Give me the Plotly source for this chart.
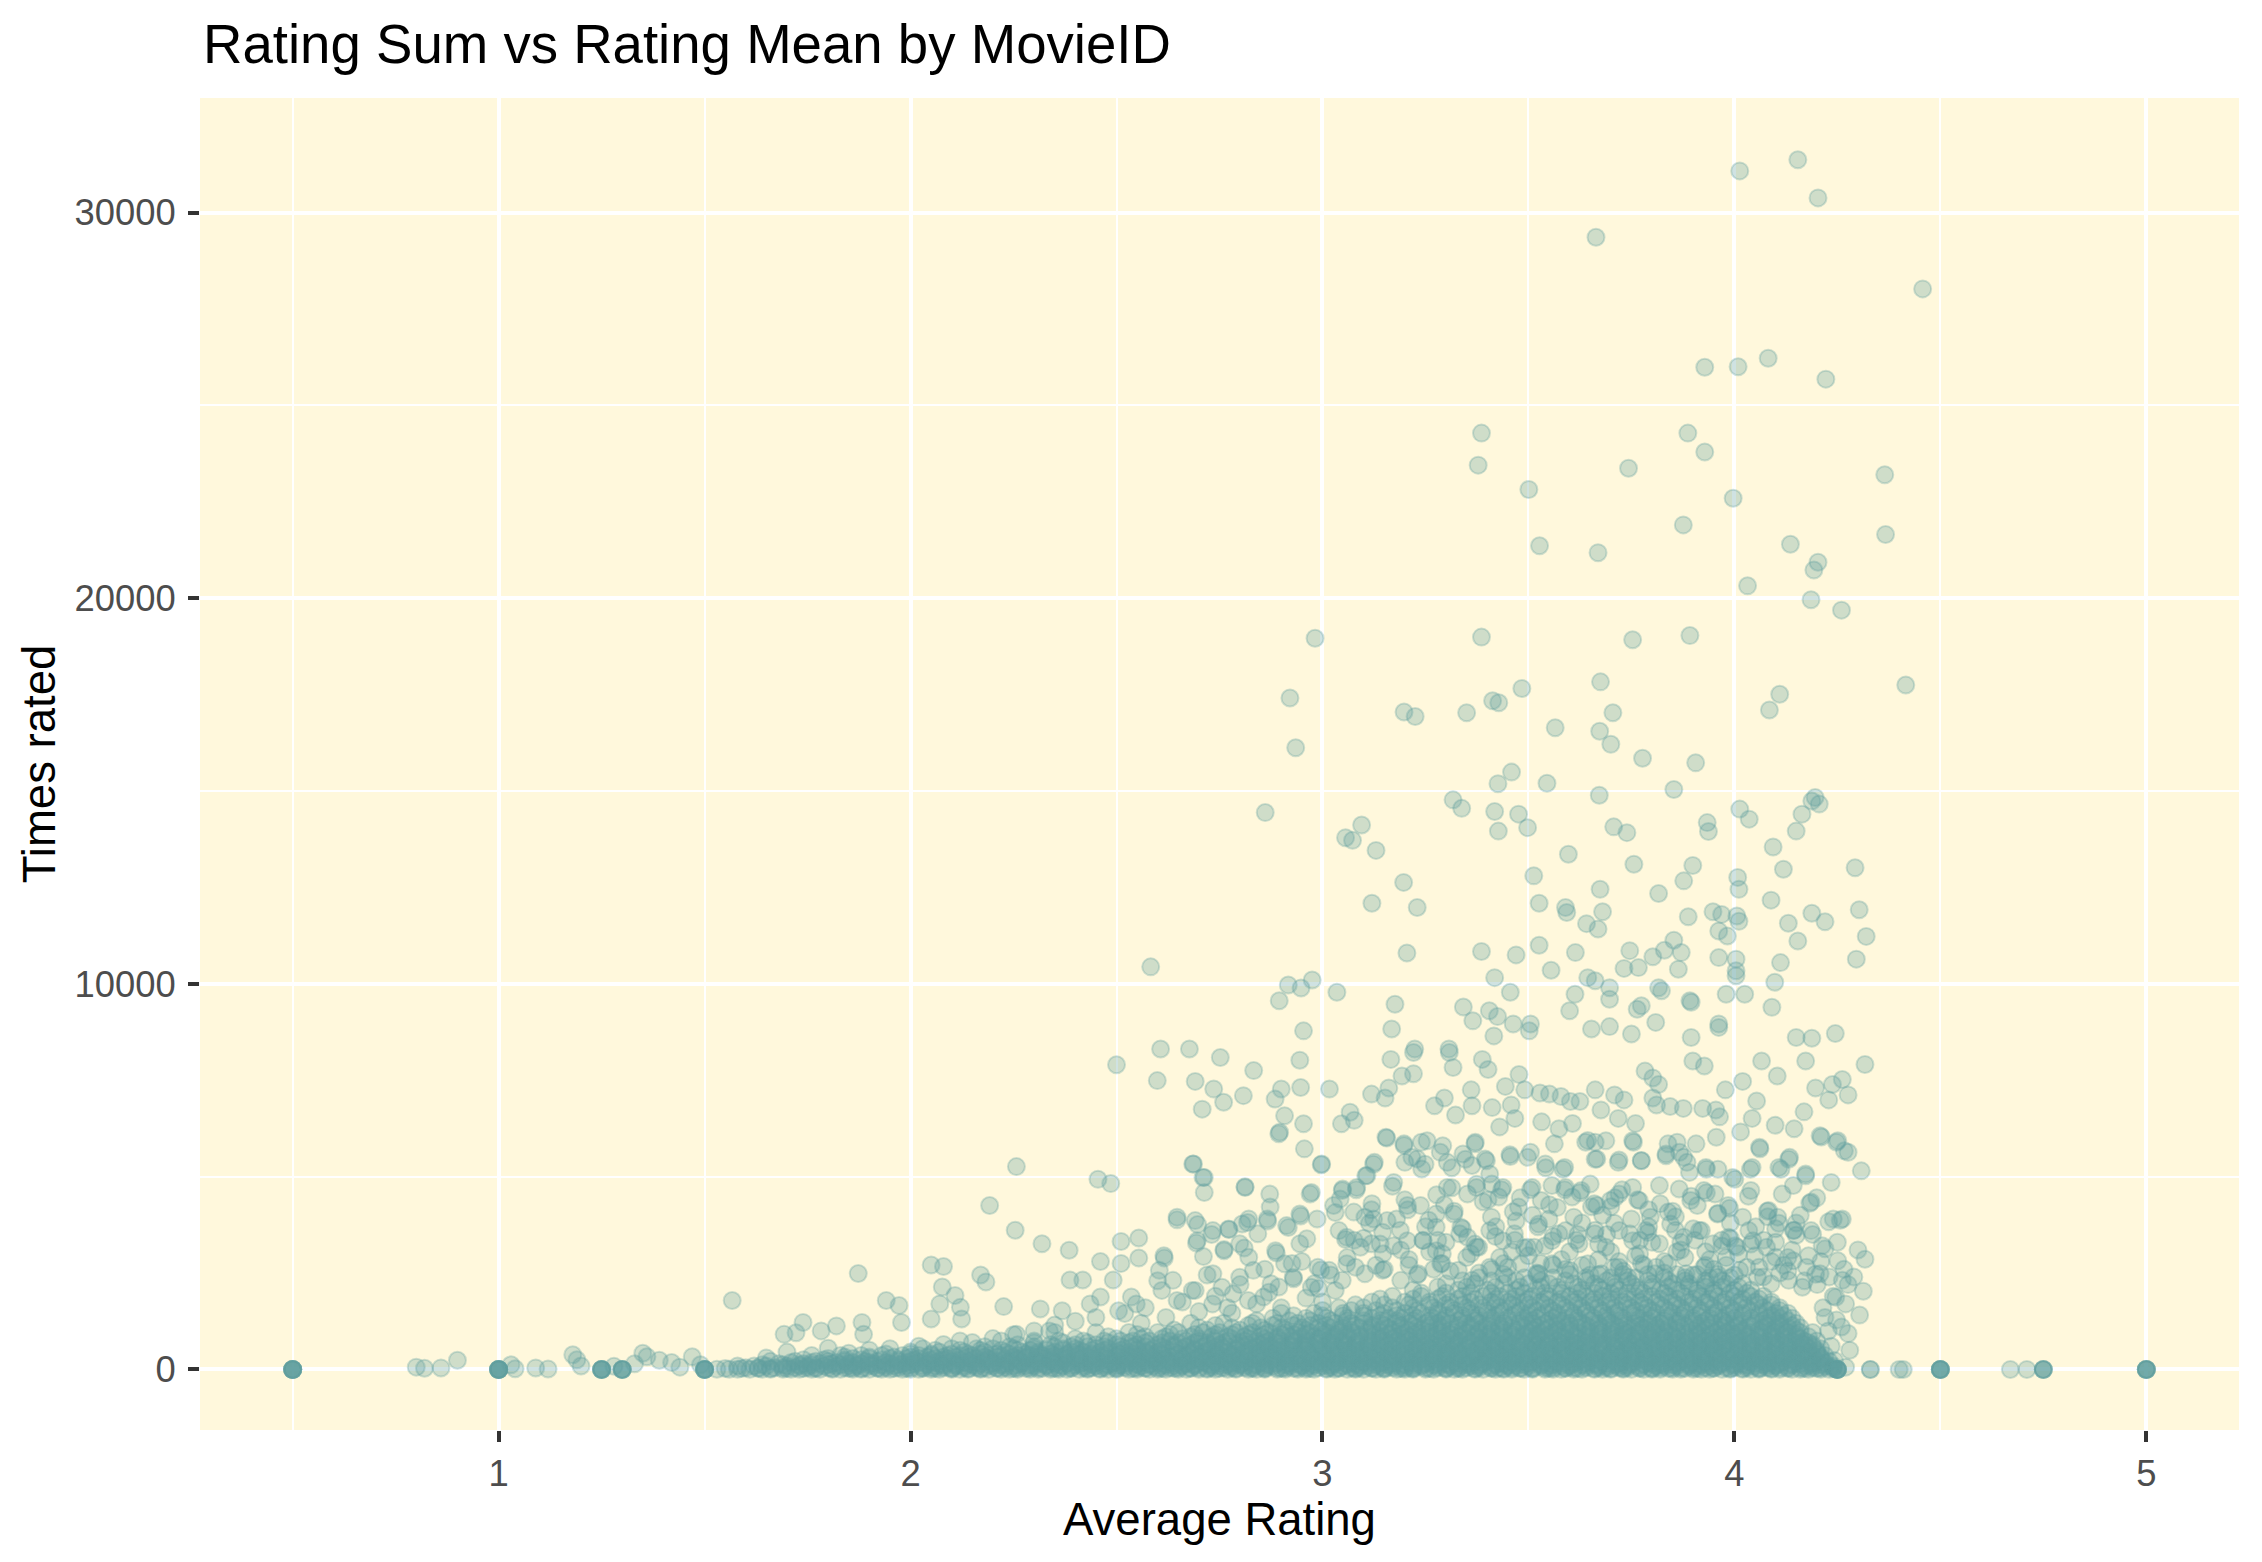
import plotly.graph_objects as go

# ratings per movie: mean rating (x) against number of ratings (y)

# sparse top of the cloud, y >= 16000
top_x = [4.013, 4.154, 4.203, 3.664, 4.457, 3.928, 4.009, 4.082, 4.222, 3.386,
         3.378, 3.887, 3.928, 3.743, 4.365, 3.501, 3.997, 3.876, 4.367, 3.527,
         4.136, 3.669, 4.203, 4.193, 4.032, 4.186, 4.26, 2.982, 3.386, 3.892,
         3.753, 4.416, 2.921, 3.198, 3.225, 3.35, 3.413, 3.428, 3.484, 3.675,
         3.705, 4.11, 4.085, 3.565, 3.673, 3.70, 2.935]
top_y = [31080, 31370, 30380, 29360, 28020, 25990, 26000, 26220, 25680, 24280,
         23450, 24280, 23790, 23370, 23200, 22820, 22590, 21900, 21650, 21360,
         21400, 21180, 20930, 20730, 20320, 19960, 19690, 18960, 18990, 19030,
         18920, 17750, 17410, 17050, 16930, 17030, 17340, 17290, 17660, 17830,
         17030, 17510, 17100, 16640, 16550, 16210, 16120]

# 8300 - 16000
upper_x = [3.777, 3.906, 3.459, 3.426, 3.545, 3.853, 3.672, 4.196, 4.206, 4.188,
           4.013, 2.861, 3.317, 3.338, 3.418, 3.476, 3.427, 3.498, 3.707, 3.739,
           3.934, 3.937, 4.036, 4.164, 4.15, 3.056, 3.073, 3.095, 3.13, 4.094,
           3.597, 3.756, 3.899, 4.293, 4.119, 3.513, 3.877, 4.008, 4.011, 3.197,
           3.674, 3.816, 4.089, 3.12, 3.23, 3.526, 3.59, 3.593, 3.68, 4.303,
           3.948, 3.969, 4.006, 4.188, 4.22, 3.888, 3.641, 3.669, 4.131, 4.011,
           3.962, 3.983, 4.32, 4.154, 3.853, 3.526, 3.205, 3.386, 3.47, 3.614,
           3.746, 3.802, 3.83, 3.871, 3.962, 4.004, 4.112, 4.296, 3.555, 3.732,
           3.767, 3.864, 4.004, 4.004, 2.583, 3.418, 3.644, 3.662, 3.697, 4.098,
           2.917, 2.948, 2.975, 3.035, 2.895, 3.456, 3.613, 3.816, 3.823, 3.892,
           3.98, 4.025, 4.091, 3.176, 3.342, 3.365, 3.405, 3.425, 3.463, 3.505,
           3.6, 3.697, 3.764, 3.774, 3.809, 3.895, 3.962, 3.168, 3.416, 3.502,
           3.653, 3.697, 3.75, 3.895, 3.962, 2.954, 3.224, 3.307, 4.15, 4.188,
           4.245, 2.607, 2.677]
upper_y = [15850, 15730, 15490, 15190, 15200, 15040, 14890, 14830, 14660, 14740,
           14530, 14440, 14770, 14550, 14470, 14400, 13960, 14050, 14070, 13920,
           14180, 13950, 14270, 14400, 13960, 13790, 13720, 14120, 13460, 13550,
           13360, 13100, 13070, 13010, 12970, 12800, 12670, 12760, 12450, 12630,
           12450, 12340, 12170, 12090, 11980, 12090, 11980, 11850, 11870, 11920,
           11870, 11800, 11760, 11830, 11610, 11740, 11560, 11420, 11570, 11620,
           11370, 11240, 11230, 11110, 11130, 11000, 10800, 10840, 10750, 10810,
           10860, 10700, 10870, 10810, 10680, 10640, 10550, 10640, 10350, 10400,
           10420, 10380, 10340, 10210, 10440, 10160, 10160, 10080, 9900, 10040,
           9970, 9890, 10100, 9780, 9560, 9780, 9730, 9900, 9820, 9560,
           9730, 9730, 9390, 9470, 9400, 9040, 9300, 9150, 8960, 8960,
           9300, 9600, 9340, 9430, 9000, 9520, 8960, 8830, 8650, 8780,
           8830, 8890, 8700, 8610, 8870, 8780, 8310, 8310, 8610, 8590,
           8710, 8310, 8310]

# left part of the middle band (x < 3.07, 4300 - 8300)
left_mid_x = [2.752, 2.833, 2.599, 2.691, 2.736, 2.808, 2.76, 2.708, 2.885, 2.90,
              2.947, 2.945, 3.017, 2.908, 2.896, 2.954, 3.067, 3.046, 2.687, 2.71,
              2.812, 2.998, 3.049, 2.973, 2.872, 2.50]
left_mid_y = [8090, 7750, 7490, 7470, 7270, 7100, 6930, 6750, 7010, 7270,
              7310, 8020, 7270, 6580, 6150, 6370, 6670, 6370, 5330, 4980,
              4720, 5330, 4680, 4590, 4550, 7900]

# right part of the middle band (x > 3.07, 2000 - 8300)
right_mid_x = [3.166, 3.221, 3.308, 3.388, 3.402, 3.317, 3.193, 3.221, 3.119, 3.161,
               3.152, 3.272, 3.296, 3.323, 3.361, 3.363, 3.412, 3.444, 3.477, 3.491,
               3.458, 3.43, 3.467, 3.528, 3.551, 3.579, 3.602, 3.625, 3.532, 3.574,
               3.607, 3.662, 3.676, 3.709, 3.732, 3.718, 3.662, 3.644, 3.755, 3.76,
               3.783, 3.802, 3.816, 3.802, 3.811, 3.844, 3.876, 3.899, 3.927, 3.923,
               3.955, 3.964, 3.978, 4.02, 4.043, 4.015, 4.054, 4.066, 4.104, 4.099,
               4.145, 4.169, 4.173, 4.197, 4.238, 4.262, 4.276, 4.229, 4.211, 4.248,
               4.276, 4.308, 4.317, 4.062, 4.039, 4.001, 3.96, 3.932, 3.885, 3.867,
               3.834, 3.774, 3.718, 3.662, 3.584, 3.542, 3.505, 3.456, 3.398, 3.37,
               3.347, 3.314, 3.286, 3.249, 3.24, 3.198, 3.217, 3.156, 3.124, 3.105,
               3.077, 4.113, 4.132, 4.173,
               3.082, 3.119, 3.17, 3.207, 3.277, 3.314, 3.258, 3.296, 3.374, 3.402,
               3.435, 3.463, 3.505, 3.523, 3.551, 3.588, 3.625, 3.653, 3.70, 3.727,
               3.765, 3.792, 3.857, 3.895, 3.932, 3.96, 3.988, 4.034, 4.081, 4.108,
               4.145, 4.183, 4.229, 4.257, 4.22, 4.317, 4.266, 4.276, 4.313, 4.304,
               4.276, 4.248, 4.243, 4.201, 4.197, 4.15, 4.071, 4.052, 4.006, 3.969,
               3.904, 3.857, 3.792, 3.746, 3.709, 3.662, 3.616, 3.574, 3.514, 3.467,
               3.421, 3.374, 3.333, 3.291, 3.244, 3.189, 3.147, 3.114, 3.077, 4.215,
               4.228, 4.235, 4.22, 4.24,
               3.13, 3.21, 3.27, 3.35, 3.44, 3.5, 3.56, 3.6, 3.67, 3.72,
               3.77, 3.83, 3.87, 3.93, 3.98, 4.03, 4.09, 4.13, 3.41, 3.55,
               3.68, 3.82, 3.99, 3.2, 3.63, 3.48, 4.16, 3.3, 3.9, 4.1]
right_mid_y = [8040, 8220, 8220, 8040, 7780, 7830, 7610, 7670, 7140, 7300,
               7040, 6840, 7040, 6600, 7250, 6840, 6790, 7340, 7650, 7250,
               6860, 6290, 6510, 7170, 7140, 7080, 6950, 6950, 6420, 6240,
               6380, 7250, 6730, 7120, 6990, 6510, 5890, 5940, 5890, 6380,
               7740, 7560, 7390, 7040, 6860, 6820, 6770, 8000, 7870, 6770,
               6730, 6550, 7250, 7470, 6510, 6160, 6960, 8000, 7610, 6330,
               6240, 6680, 8000, 7300, 7390, 7520, 7120, 6990, 6030, 5890,
               5630, 5150, 7910, 5720, 5190, 4930, 5190, 5190, 5370, 5630,
               5540, 5410, 5370, 5450, 5190, 5230, 5630, 5520, 5410, 5850,
               5450, 5230, 5630, 5320, 5890, 5810, 5500, 6000, 5320, 5020,
               6460, 5190, 5450, 5020,
               4660, 4140, 4750, 4140, 4530, 4710, 3870, 4270, 4800, 4400,
               4660, 4090, 4660, 3700, 4270, 4660, 4580, 4220, 4220, 4660,
               4400, 4140, 3960, 4490, 4580, 4050, 4180, 4490, 3960, 3790,
               3610, 4310, 3830, 3870, 3130, 2860, 2600, 2200, 2030, 1410,
               930, 1280, 230, 2200, 2470, 3480, 3350, 3700, 3170, 3350,
               3350, 3610, 3700, 3520, 3790, 3610, 3350, 3520, 3170, 3350,
               3700, 3170, 3520, 3000, 3350, 3610, 3000, 3790, 3350, 1600,
               1000, 600, 1350, 1900,
               2700, 2850, 2600, 2900, 2750, 2950, 2700, 3050, 2850, 2650,
               3000, 2800, 3100, 2700, 2900, 2650, 2800, 2550, 3950, 3900,
               4000, 4300, 3800, 4400, 3800, 4450, 4000, 3300, 3650, 3300]

# busy zone just above the solid band
cloud_x = [3.02, 3.06, 3.1, 3.15, 3.19, 3.23, 3.25, 3.29, 3.32, 3.36,
           3.38, 3.42, 3.45, 3.47, 3.52, 3.54, 3.57, 3.59, 3.62, 3.65,
           3.66, 3.7, 3.73, 3.75, 3.78, 3.8, 3.83, 3.85, 3.88, 3.9,
           3.92, 3.95, 3.97, 4.0, 4.02, 4.05, 4.07, 4.1, 4.12, 4.14,
           4.17, 4.19, 4.21, 4.23, 4.25, 4.27, 4.29, 4.3, 4.26, 4.28,
           3.04, 3.12, 3.18, 3.28, 3.34, 3.39, 3.43, 3.49, 3.51, 3.58,
           3.61, 3.69, 3.71, 3.76, 3.79, 3.86, 3.91, 3.94, 3.99, 4.04,
           4.08, 4.11, 4.15, 4.18, 4.2, 3.08, 3.14, 3.21, 3.26, 3.31,
           3.37, 3.41, 3.46, 3.53, 3.56, 3.63, 3.67, 3.72, 3.77, 3.81,
           3.87, 3.93, 3.98, 4.01, 4.06, 4.13,
           2.52, 2.57, 2.62, 2.66, 2.7, 2.74, 2.77, 2.8, 2.84, 2.87,
           2.9, 2.93, 2.96, 2.99, 2.6, 2.72, 2.86, 2.95, 2.4, 2.45,
           2.35, 2.3, 2.25, 2.2, 2.15, 2.08, 2.02, 1.9, 1.85, 1.8,
           1.7, 1.65]
cloud_y = [2450, 2900, 3400, 2600, 3100, 2450, 3700, 2750, 4100, 3000,
           2500, 3450, 2650, 3850, 2500, 3200, 4200, 2600, 3500, 2450,
           4300, 3050, 2550, 3900, 2700, 3300, 2500, 4100, 2900, 2450,
           3600, 2600, 3200, 2450, 3950, 2950, 2400, 3650, 2700, 3100,
           2300, 3500, 2800, 2400, 3300, 1700, 2400, 3100, 1100, 500,
           3600, 4300, 3900, 3350, 3650, 4350, 2900, 3150, 4000, 2850,
           3950, 3500, 4450, 2950, 3550, 3050, 4250, 2850, 3400, 3250,
           4100, 2500, 3800, 2950, 4450, 2650, 3250, 2700, 3050, 2550,
           3250, 2600, 3050, 2750, 3450, 2700, 3250, 2800, 3350, 2650,
           3300, 3050, 2700, 3000, 2650, 2900,
           1450, 1600, 1350, 1750, 1500, 1900, 1600, 2200, 1700, 2000,
           1600, 2350, 1850, 2100, 2300, 2450, 2600, 2800, 1250, 1350,
           1150, 1000, 900, 800, 700, 650, 600, 500, 420, 550,
           450, 300]

# second reading of the 2000 - 6000 zone
cloud2_x = [2.685, 2.713, 2.713, 2.812, 2.956, 2.997, 2.97, 2.894, 3.154, 3.198,
            3.254, 3.292, 3.23, 3.241, 3.2, 3.126, 3.108, 3.173, 3.083, 3.048,
            3.303, 3.341, 3.371, 3.395, 3.363, 3.406, 3.455, 3.498, 3.541, 3.563,
            3.588, 3.639, 3.666, 3.688, 3.72, 3.753, 3.774, 3.834, 3.861, 3.907,
            3.877, 3.891, 3.931, 3.956, 3.996, 4.04, 4.043, 4.061, 4.108, 4.134,
            4.173, 4.208, 4.235, 4.251, 4.267, 4.116, 4.143, 4.186,
            2.647, 2.691, 2.734, 2.772, 2.805, 2.821, 2.873, 2.866, 2.913, 2.945,
            2.696, 2.615, 2.604, 3.027, 3.043, 3.076, 3.103, 3.124, 3.157, 3.206,
            3.238, 3.276, 3.303, 3.319, 3.352, 3.374, 3.411, 3.428, 3.438, 3.476,
            3.509, 3.531, 3.557, 3.59, 3.606, 3.628, 3.65, 3.666, 3.699, 3.72,
            3.753, 3.769, 3.796, 3.818, 3.839, 3.866, 3.894, 3.926, 3.953, 3.985,
            3.959, 3.839, 4.035, 4.083, 4.105, 4.143, 4.186, 4.24, 4.262,
            2.761, 2.799, 2.821, 2.843, 2.832, 2.886, 2.908, 2.945, 2.962, 2.989,
            3.059, 3.059, 3.092, 3.119, 3.146, 3.173, 3.206, 3.244, 3.276, 3.276,
            3.336, 3.352, 3.379, 3.406, 3.438, 3.466, 3.498, 3.525, 3.557, 3.59,
            3.623, 3.661, 3.688, 3.72, 3.753, 3.785, 3.818, 3.845, 3.877, 3.915,
            3.948, 3.986, 4.002, 4.045, 4.078, 4.1, 4.143, 4.175, 4.208, 4.251,
            4.213, 4.262, 4.246,
            2.637, 2.691, 2.734, 2.756, 2.799, 2.875, 2.929, 2.973, 3.016, 3.048,
            3.103, 3.146, 3.19, 3.233, 3.287, 3.33, 3.363, 3.406, 3.449, 3.482,
            3.525, 3.557, 3.601, 3.644, 3.677, 3.709, 3.742, 3.774, 3.807, 3.839,
            3.883, 3.926, 3.959, 4.013, 4.056, 4.089, 4.132, 4.165]
cloud2_y = [5330, 4980, 4590, 4740, 5720, 5310, 4550, 6110, 6020, 5850,
            5930, 5800, 5460, 5200, 5370, 5370, 5030, 4850, 4720, 4640,
            5370, 5590, 5890, 5460, 5290, 5070, 5570, 5500, 5330, 5850,
            5240, 5890, 5460, 5930, 5430, 5930, 5420, 5590, 5890, 5850,
            5500, 5110, 5240, 6020, 4980, 4640, 5240, 5760, 5240, 5500,
            5070, 6060, 4850, 5930, 5670, 4550, 4770, 4340,
            3950, 3860, 3600, 3640, 3770, 3900, 4210, 3900, 3730, 4030,
            3340, 2950, 2570, 4250, 4420, 4080, 3950, 3900, 3860, 4250,
            4250, 4030, 4720, 4030, 4550, 4720, 4810, 4470, 4720, 4210,
            4720, 4380, 4770, 4720, 4470, 4640, 4810, 4250, 4380, 4550,
            4720, 4380, 3950, 4770, 4080, 4680, 4380, 4640, 4550, 4250,
            4030, 5850, 3600, 4120, 3950, 3600, 3600, 3900, 3900,
            3080, 3260, 2910, 3520, 2570, 3080, 2740, 3260, 3390, 2650,
            3430, 2740, 3170, 3260, 3560, 3210, 3340, 3340, 3690, 3080,
            3690, 3430, 3170, 3600, 3340, 3520, 3170, 3770, 3340, 3600,
            3260, 3520, 3170, 3600, 3340, 3600, 3260, 3770, 3430, 3600,
            3260, 3430, 3210, 3340, 3170, 2910, 2820, 2650, 2480, 2820,
            3210, 2310, 1870,
            2310, 2050, 2480, 2130, 2390, 2220, 2390, 2130, 2570, 2310,
            2480, 2570, 2310, 2480, 2740, 2570, 2310, 2650, 2390, 2740,
            2480, 2740, 2570, 2740, 2480, 2650, 2390, 2740, 2480, 2740,
            2480, 2650, 2390, 2570, 2390, 2220, 2310, 2130]

# lower left of the cloud (x < 3.07, below 4300 / left of 2.58)
low_x = [2.486, 2.455, 2.257, 2.192, 2.254, 2.319, 2.385, 2.511, 2.554, 2.461,
         2.647, 2.697, 2.731, 2.773, 2.818, 2.867, 2.917, 2.947, 2.987, 3.031,
         3.056, 2.694, 2.711, 2.761, 2.81, 2.888, 2.926, 2.996, 2.616, 2.554,
         2.511, 2.387, 2.418, 2.492, 2.536, 2.05, 2.08, 2.17, 2.183, 2.077,
         2.108, 2.121, 2.071, 2.124, 2.05, 1.873, 1.941, 1.972, 1.978, 1.567,
         1.739, 1.693, 1.722, 1.783, 1.82, 1.882, 1.886, 2.226, 2.315, 2.368,
         2.337, 2.257, 2.436, 2.461, 2.505, 2.548, 2.610, 2.647, 2.684, 2.733,
         2.783, 2.820, 2.857, 2.894, 2.981, 3.031]
low_y = [4820, 4930, 5260, 4250, 3610, 3260, 3090, 3320, 3410, 2800,
         3880, 3760, 3500, 3630, 3810, 3850, 3680, 3980, 3900, 4070,
         3370, 3280, 2930, 3110, 3150, 3020, 2750, 2580, 2890, 2890,
         2750, 2320, 2320, 2320, 1880, 2710, 2670, 2450, 2270, 2140,
         1920, 1610, 1700, 1310, 1310, 2490, 1790, 1660, 1220, 1790,
         1220, 910, 950, 1000, 1130, 1220, 910, 1630, 1570, 1520,
         1000, 910, 1700, 1880, 1520, 1700, 2050, 1790, 2050, 1700,
         1960, 1790, 1880, 2140, 2230, 2050]

# dense band near the bottom: one y level per row of x values
band_levels = [5, 45, 90, 150, 210, 285, 360, 450, 540, 640, 740, 850,
               960, 1080, 1200, 1330, 1460, 1600, 1750, 1900, 2060, 2220, 2380]
band_rows = [
    [1.53, 1.56, 1.58, 1.61, 1.64, 1.66, 1.69, 1.71, 1.73, 1.76, 1.78, 1.81, 1.83, 1.86,
     1.88, 1.9, 1.93, 1.95, 1.98, 2.0, 2.02, 2.05, 2.07, 2.1, 2.12, 2.14, 2.17, 2.19,
     2.22, 2.24, 2.26, 2.29, 2.31, 2.34, 2.36, 2.38, 2.41, 2.43, 2.46, 2.48, 2.5, 2.53,
     2.55, 2.58, 2.6, 2.62, 2.65, 2.67, 2.7, 2.72, 2.74, 2.77, 2.79, 2.82, 2.84, 2.86,
     2.89, 2.91, 2.94, 2.96, 2.98, 3.01, 3.03, 3.06, 3.08, 3.1, 3.13, 3.15, 3.18, 3.2,
     3.22, 3.25, 3.27, 3.3, 3.32, 3.34, 3.37, 3.39, 3.42, 3.44, 3.46, 3.49, 3.51, 3.54,
     3.56, 3.58, 3.61, 3.63, 3.66, 3.68, 3.7, 3.73, 3.75, 3.78, 3.8, 3.82, 3.85, 3.87,
     3.9, 3.92, 3.94, 3.97, 3.99, 4.02, 4.04, 4.06, 4.09, 4.11, 4.14, 4.16, 4.18, 4.21,
     4.23],
    [1.6, 1.63, 1.67, 1.69, 1.72, 1.75, 1.77, 1.8, 1.84, 1.86, 1.89, 1.92, 1.94, 1.97,
     2.0, 2.03, 2.05, 2.08, 2.1, 2.13, 2.16, 2.18, 2.21, 2.23, 2.26, 2.29, 2.31, 2.34,
     2.36, 2.39, 2.42, 2.44, 2.47, 2.5, 2.52, 2.55, 2.57, 2.6, 2.63, 2.65, 2.68, 2.7,
     2.73, 2.76, 2.78, 2.81, 2.83, 2.86, 2.89, 2.91, 2.94, 2.96, 2.99, 3.02, 3.04, 3.07,
     3.09, 3.12, 3.15, 3.17, 3.2, 3.22, 3.25, 3.28, 3.3, 3.33, 3.35, 3.38, 3.41, 3.43,
     3.46, 3.48, 3.51, 3.54, 3.56, 3.59, 3.61, 3.64, 3.67, 3.69, 3.72, 3.74, 3.77, 3.8,
     3.82, 3.85, 3.87, 3.9, 3.93, 3.95, 3.98, 4.0, 4.03, 4.06, 4.08, 4.11, 4.13, 4.16,
     4.19, 4.21, 4.24],
    [1.58, 1.62, 1.65, 1.7, 1.73, 1.75, 1.79, 1.82, 1.85, 1.87, 1.91, 1.94, 1.96, 1.99,
     2.03, 2.06, 2.08, 2.11, 2.13, 2.16, 2.2, 2.23, 2.25, 2.28, 2.3, 2.33, 2.37, 2.39,
     2.42, 2.45, 2.47, 2.5, 2.52, 2.56, 2.59, 2.61, 2.64, 2.66, 2.69, 2.73, 2.75, 2.78,
     2.81, 2.83, 2.86, 2.88, 2.92, 2.95, 2.97, 3.0, 3.02, 3.05, 3.09, 3.11, 3.14, 3.17,
     3.19, 3.22, 3.24, 3.28, 3.31, 3.33, 3.36, 3.38, 3.41, 3.45, 3.47, 3.5, 3.53, 3.55,
     3.58, 3.6, 3.64, 3.67, 3.69, 3.72, 3.74, 3.77, 3.81, 3.83, 3.86, 3.89, 3.91, 3.94,
     3.96, 4.0, 4.03, 4.05, 4.08, 4.1, 4.13, 4.17, 4.19, 4.22, 4.24],
    [1.68, 1.74, 1.78, 1.81, 1.85, 1.88, 1.91, 1.95, 1.98, 2.01, 2.04, 2.07, 2.11, 2.14,
     2.17, 2.2, 2.23, 2.27, 2.3, 2.32, 2.35, 2.38, 2.41, 2.44, 2.47, 2.49, 2.52, 2.55,
     2.58, 2.61, 2.64, 2.67, 2.69, 2.72, 2.75, 2.78, 2.8, 2.83, 2.86, 2.89, 2.92, 2.94,
     2.97, 3.0, 3.03, 3.06, 3.08, 3.11, 3.14, 3.17, 3.19, 3.22, 3.25, 3.28, 3.3, 3.33,
     3.36, 3.39, 3.42, 3.44, 3.47, 3.5, 3.53, 3.55, 3.58, 3.61, 3.64, 3.66, 3.69, 3.72,
     3.75, 3.78, 3.8, 3.83, 3.86, 3.89, 3.91, 3.94, 3.97, 4.0, 4.02, 4.05, 4.08, 4.11,
     4.14, 4.16, 4.19, 4.22],
    [1.66, 1.72, 1.77, 1.8, 1.84, 1.89, 1.92, 1.97, 2.0, 2.04, 2.07, 2.1, 2.14, 2.18,
     2.21, 2.24, 2.27, 2.31, 2.34, 2.36, 2.4, 2.43, 2.46, 2.49, 2.51, 2.54, 2.57, 2.6,
     2.63, 2.65, 2.68, 2.71, 2.74, 2.76, 2.79, 2.82, 2.85, 2.87, 2.9, 2.93, 2.96, 2.99,
     3.01, 3.04, 3.07, 3.1, 3.12, 3.15, 3.18, 3.21, 3.23, 3.26, 3.29, 3.32, 3.35, 3.37,
     3.4, 3.43, 3.46, 3.48, 3.51, 3.54, 3.57, 3.59, 3.62, 3.65, 3.68, 3.71, 3.73, 3.76,
     3.79, 3.82, 3.84, 3.87, 3.9, 3.93, 3.95, 3.98, 4.01, 4.04, 4.07, 4.09, 4.12, 4.15,
     4.18, 4.2, 4.23],
    [1.8, 1.86, 1.9, 1.95, 1.99, 2.02, 2.06, 2.09, 2.13, 2.16, 2.19, 2.23, 2.26, 2.28,
     2.32, 2.35, 2.38, 2.41, 2.45, 2.48, 2.51, 2.54, 2.57, 2.6, 2.62, 2.66, 2.69, 2.72,
     2.75, 2.77, 2.8, 2.83, 2.86, 2.89, 2.92, 2.95, 2.98, 3.0, 3.03, 3.06, 3.09, 3.12,
     3.15, 3.18, 3.21, 3.24, 3.27, 3.29, 3.32, 3.35, 3.38, 3.41, 3.44, 3.47, 3.5, 3.52,
     3.55, 3.58, 3.61, 3.64, 3.67, 3.7, 3.73, 3.76, 3.78, 3.81, 3.84, 3.87, 3.9, 3.93,
     3.96, 3.99, 4.01, 4.04, 4.07, 4.1, 4.13, 4.16, 4.19, 4.21],
    [1.76, 1.83, 1.88, 1.93, 1.98, 2.02, 2.05, 2.09, 2.12, 2.15, 2.19, 2.22, 2.26, 2.29,
     2.32, 2.35, 2.38, 2.41, 2.44, 2.47, 2.5, 2.53, 2.56, 2.58, 2.61, 2.64, 2.67, 2.7,
     2.72, 2.75, 2.78, 2.8, 2.84, 2.86, 2.89, 2.92, 2.94, 2.97, 3.0, 3.03, 3.06, 3.08,
     3.11, 3.14, 3.16, 3.19, 3.22, 3.25, 3.27, 3.3, 3.33, 3.36, 3.39, 3.41, 3.44, 3.47,
     3.49, 3.52, 3.55, 3.58, 3.61, 3.63, 3.66, 3.7, 3.72, 3.75, 3.78, 3.8, 3.83, 3.86,
     3.88, 3.92, 3.94, 3.97, 4.0, 4.02, 4.05, 4.08, 4.11, 4.14, 4.16, 4.19, 4.22],
    [2.0, 2.07, 2.13, 2.18, 2.23, 2.27, 2.31, 2.35, 2.39, 2.42, 2.46, 2.5, 2.53, 2.57,
     2.6, 2.64, 2.68, 2.71, 2.74, 2.77, 2.81, 2.85, 2.87, 2.9, 2.93, 2.97, 3.0, 3.02,
     3.05, 3.08, 3.11, 3.14, 3.16, 3.19, 3.22, 3.25, 3.28, 3.3, 3.33, 3.36, 3.39, 3.42,
     3.45, 3.47, 3.5, 3.53, 3.56, 3.59, 3.61, 3.64, 3.67, 3.7, 3.73, 3.75, 3.78, 3.81,
     3.84, 3.87, 3.9, 3.92, 3.95, 3.98, 4.01, 4.04, 4.07, 4.09, 4.12, 4.15, 4.18, 4.2],
    [1.95, 2.03, 2.1, 2.16, 2.2, 2.25, 2.3, 2.33, 2.37, 2.4, 2.45, 2.48, 2.52, 2.55,
     2.59, 2.62, 2.66, 2.69, 2.73, 2.76, 2.79, 2.83, 2.86, 2.88, 2.91, 2.95, 2.98, 3.0,
     3.04, 3.07, 3.1, 3.13, 3.17, 3.2, 3.23, 3.26, 3.29, 3.31, 3.34, 3.38, 3.4, 3.43,
     3.46, 3.5, 3.53, 3.56, 3.59, 3.62, 3.64, 3.67, 3.71, 3.74, 3.77, 3.79, 3.82, 3.85,
     3.89, 3.91, 3.94, 3.97, 4.0, 4.03, 4.06, 4.1, 4.13, 4.15, 4.18, 4.21],
    [2.26, 2.34, 2.4, 2.45, 2.5, 2.55, 2.6, 2.64, 2.68, 2.72, 2.75, 2.79, 2.82, 2.85,
     2.88, 2.92, 2.95, 2.97, 3.01, 3.03, 3.06, 3.08, 3.11, 3.14, 3.16, 3.19, 3.22, 3.25,
     3.27, 3.3, 3.32, 3.35, 3.38, 3.41, 3.44, 3.46, 3.49, 3.52, 3.54, 3.57, 3.6, 3.62,
     3.65, 3.68, 3.7, 3.73, 3.75, 3.78, 3.8, 3.83, 3.86, 3.88, 3.91, 3.94, 3.96, 3.99,
     4.01, 4.04, 4.07, 4.09, 4.12, 4.15, 4.17, 4.19],
    [2.12, 2.22, 2.3, 2.36, 2.42, 2.47, 2.51, 2.54, 2.58, 2.63, 2.67, 2.7, 2.74, 2.77,
     2.81, 2.84, 2.87, 2.9, 2.93, 2.96, 2.99, 3.02, 3.05, 3.09, 3.12, 3.15, 3.18, 3.21,
     3.24, 3.28, 3.3, 3.33, 3.36, 3.39, 3.42, 3.45, 3.48, 3.51, 3.55, 3.57, 3.6, 3.63,
     3.66, 3.69, 3.72, 3.76, 3.78, 3.81, 3.84, 3.87, 3.9, 3.93, 3.96, 3.99, 4.02, 4.05,
     4.08, 4.11, 4.14, 4.17, 4.2],
    [2.48, 2.57, 2.62, 2.68, 2.73, 2.77, 2.81, 2.85, 2.89, 2.92, 2.95, 2.98, 3.0, 3.03,
     3.06, 3.09, 3.12, 3.15, 3.18, 3.21, 3.24, 3.27, 3.3, 3.33, 3.37, 3.4, 3.43, 3.46,
     3.49, 3.52, 3.54, 3.58, 3.61, 3.64, 3.67, 3.7, 3.73, 3.75, 3.79, 3.82, 3.85, 3.88,
     3.91, 3.94, 3.97, 4.0, 4.03, 4.06, 4.09, 4.12, 4.15, 4.18],
    [2.35, 2.45, 2.53, 2.6, 2.65, 2.71, 2.75, 2.79, 2.83, 2.87, 2.91, 2.94, 2.97, 3.01,
     3.04, 3.07, 3.11, 3.14, 3.17, 3.2, 3.23, 3.26, 3.29, 3.32, 3.35, 3.38, 3.41, 3.44,
     3.47, 3.5, 3.53, 3.56, 3.59, 3.62, 3.65, 3.68, 3.71, 3.74, 3.77, 3.8, 3.83, 3.86,
     3.89, 3.92, 3.95, 3.98, 4.01, 4.04, 4.07, 4.1, 4.13, 4.16, 4.19],
    [2.7, 2.78, 2.85, 2.9, 2.95, 2.99, 3.02, 3.05, 3.09, 3.12, 3.16, 3.19, 3.23, 3.26,
     3.29, 3.33, 3.36, 3.39, 3.43, 3.46, 3.49, 3.52, 3.55, 3.59, 3.62, 3.65, 3.68, 3.72,
     3.75, 3.78, 3.81, 3.84, 3.87, 3.91, 3.94, 3.97, 4.0, 4.03, 4.07, 4.1, 4.13, 4.16],
    [2.56, 2.68, 2.76, 2.83, 2.89, 2.94, 2.99, 3.03, 3.07, 3.1, 3.14, 3.18, 3.21, 3.25,
     3.28, 3.31, 3.35, 3.38, 3.41, 3.44, 3.48, 3.51, 3.54, 3.57, 3.6, 3.63, 3.67, 3.7,
     3.73, 3.76, 3.79, 3.82, 3.86, 3.89, 3.92, 3.95, 3.98, 4.01, 4.05, 4.08, 4.11, 4.15],
    [2.88, 2.96, 3.01, 3.06, 3.12, 3.16, 3.19, 3.23, 3.27, 3.3, 3.34, 3.37, 3.41, 3.45,
     3.49, 3.52, 3.56, 3.59, 3.62, 3.66, 3.69, 3.73, 3.77, 3.8, 3.83, 3.87, 3.9, 3.94,
     3.97, 4.0, 4.04, 4.08, 4.11, 4.14],
    [2.78, 2.9, 2.98, 3.05, 3.1, 3.15, 3.2, 3.24, 3.28, 3.32, 3.36, 3.4, 3.43, 3.47,
     3.5, 3.54, 3.57, 3.61, 3.64, 3.68, 3.71, 3.75, 3.78, 3.81, 3.85, 3.88, 3.92, 3.95,
     3.99, 4.02, 4.06, 4.1, 4.13],
    [3.04, 3.1, 3.17, 3.22, 3.27, 3.31, 3.35, 3.39, 3.43, 3.47, 3.51, 3.55, 3.59, 3.63,
     3.67, 3.71, 3.75, 3.79, 3.83, 3.87, 3.91, 3.95, 3.99, 4.03, 4.07, 4.11],
    [3.0, 3.12, 3.2, 3.26, 3.31, 3.36, 3.41, 3.45, 3.49, 3.53, 3.57, 3.61, 3.65, 3.69,
     3.73, 3.77, 3.81, 3.85, 3.89, 3.93, 3.97, 4.01, 4.05, 4.09],
    [3.17, 3.24, 3.29, 3.34, 3.39, 3.43, 3.47, 3.51, 3.55, 3.6, 3.64, 3.68, 3.72, 3.76,
     3.8, 3.84, 3.88, 3.92, 3.96, 4.0, 4.04, 4.07],
    [3.22, 3.33, 3.4, 3.47, 3.52, 3.58, 3.63, 3.68, 3.72, 3.77, 3.82, 3.86, 3.91, 3.95,
     4.0, 4.04],
    [3.3, 3.37, 3.44, 3.5, 3.55, 3.61, 3.66, 3.71, 3.75, 3.8, 3.85, 3.89, 3.93, 3.98,
     4.02],
    [3.38, 3.49, 3.56, 3.64, 3.7, 3.76, 3.83, 3.88, 3.94, 3.99],
]

# second pass over the band, rows in between the first ones
band2_levels = [25, 120, 180, 250, 320, 400, 495, 590, 690, 795, 905, 1020,
                1140, 1265, 1395, 1530, 1675, 1825, 1980, 2140, 2300, 2460]
band2_rows = [
    [1.55, 1.59, 1.63, 1.66, 1.7, 1.74, 1.77, 1.81, 1.85, 1.88, 1.92, 1.96, 1.99, 2.03,
     2.06, 2.1, 2.14, 2.17, 2.21, 2.25, 2.28, 2.32, 2.35, 2.39, 2.43, 2.46, 2.5, 2.54,
     2.57, 2.61, 2.64, 2.68, 2.72, 2.75, 2.79, 2.83, 2.86, 2.9, 2.93, 2.97, 3.01, 3.04,
     3.08, 3.12, 3.15, 3.19, 3.22, 3.26, 3.3, 3.33, 3.37, 3.41, 3.44, 3.48, 3.51, 3.55,
     3.59, 3.62, 3.66, 3.7, 3.73, 3.77, 3.8, 3.84, 3.88, 3.91, 3.95, 3.99, 4.02, 4.06,
     4.09, 4.13, 4.17, 4.2, 4.24],
    [1.64, 1.69, 1.73, 1.76, 1.8, 1.83, 1.87, 1.9, 1.93, 1.97, 2.0, 2.04, 2.08, 2.11,
     2.15, 2.19, 2.22, 2.26, 2.29, 2.33, 2.36, 2.4, 2.44, 2.48, 2.51, 2.55, 2.58, 2.62,
     2.66, 2.69, 2.73, 2.77, 2.8, 2.84, 2.87, 2.91, 2.95, 2.98, 3.02, 3.06, 3.09, 3.13,
     3.16, 3.2, 3.24, 3.27, 3.31, 3.35, 3.38, 3.42, 3.45, 3.49, 3.53, 3.56, 3.6, 3.63,
     3.67, 3.71, 3.74, 3.78, 3.82, 3.85, 3.89, 3.92, 3.96, 4.0, 4.03, 4.07, 4.1, 4.14,
     4.18, 4.21],
    [1.71, 1.76, 1.82, 1.86, 1.9, 1.94, 1.99, 2.02, 2.06, 2.09, 2.13, 2.16, 2.2, 2.24,
     2.27, 2.31, 2.35, 2.38, 2.42, 2.45, 2.49, 2.53, 2.56, 2.6, 2.63, 2.67, 2.71, 2.74,
     2.78, 2.81, 2.85, 2.89, 2.92, 2.96, 2.99, 3.03, 3.07, 3.1, 3.14, 3.17, 3.21, 3.25,
     3.28, 3.32, 3.35, 3.39, 3.43, 3.46, 3.5, 3.54, 3.57, 3.61, 3.64, 3.68, 3.72, 3.75,
     3.79, 3.82, 3.86, 3.9, 3.93, 3.97, 4.01, 4.04, 4.08, 4.11, 4.15, 4.19, 4.22],
    [1.74, 1.79, 1.84, 1.88, 1.93, 1.97, 2.01, 2.05, 2.08, 2.12, 2.15, 2.19, 2.23, 2.26,
     2.3, 2.34, 2.37, 2.41, 2.44, 2.48, 2.52, 2.55, 2.59, 2.62, 2.66, 2.7, 2.73, 2.77,
     2.8, 2.84, 2.88, 2.91, 2.95, 2.98, 3.02, 3.06, 3.09, 3.13, 3.16, 3.2, 3.24, 3.27,
     3.31, 3.34, 3.38, 3.42, 3.45, 3.49, 3.52, 3.56, 3.6, 3.63, 3.67, 3.7, 3.74, 3.78,
     3.81, 3.85, 3.88, 3.92, 3.96, 3.99, 4.03, 4.06, 4.1, 4.14, 4.17, 4.21],
    [1.84, 1.9, 1.96, 2.0, 2.04, 2.08, 2.11, 2.14, 2.18, 2.21, 2.25, 2.28, 2.31, 2.34,
     2.37, 2.4, 2.43, 2.46, 2.5, 2.53, 2.56, 2.59, 2.63, 2.66, 2.7, 2.73, 2.76, 2.79,
     2.82, 2.85, 2.88, 2.91, 2.94, 2.97, 3.01, 3.04, 3.07, 3.11, 3.14, 3.17, 3.2, 3.23,
     3.26, 3.3, 3.33, 3.36, 3.4, 3.43, 3.46, 3.49, 3.53, 3.56, 3.59, 3.62, 3.65, 3.69,
     3.72, 3.75, 3.79, 3.82, 3.85, 3.89, 3.92, 3.95, 3.98, 4.02, 4.05, 4.08, 4.12, 4.15,
     4.18, 4.21],
    [1.94, 2.0, 2.05, 2.1, 2.14, 2.17, 2.21, 2.24, 2.28, 2.31, 2.34, 2.38, 2.41, 2.44,
     2.48, 2.51, 2.54, 2.58, 2.61, 2.65, 2.68, 2.71, 2.74, 2.78, 2.81, 2.84, 2.88, 2.91,
     2.94, 2.97, 3.01, 3.04, 3.07, 3.1, 3.13, 3.17, 3.2, 3.23, 3.27, 3.3, 3.33, 3.37,
     3.4, 3.43, 3.46, 3.5, 3.53, 3.56, 3.6, 3.63, 3.66, 3.7, 3.73, 3.76, 3.8, 3.83,
     3.86, 3.9, 3.93, 3.96, 4.0, 4.03, 4.06, 4.1, 4.13, 4.16, 4.2],
    [2.06, 2.12, 2.17, 2.22, 2.26, 2.29, 2.33, 2.37, 2.41, 2.44, 2.47, 2.51, 2.55, 2.58,
     2.61, 2.65, 2.69, 2.72, 2.75, 2.79, 2.82, 2.85, 2.89, 2.92, 2.96, 2.99, 3.02, 3.06,
     3.09, 3.12, 3.15, 3.18, 3.21, 3.24, 3.27, 3.31, 3.34, 3.37, 3.41, 3.44, 3.48, 3.51,
     3.54, 3.58, 3.61, 3.65, 3.68, 3.72, 3.75, 3.78, 3.82, 3.85, 3.88, 3.92, 3.95, 3.99,
     4.02, 4.05, 4.08, 4.11, 4.14, 4.17, 4.2],
    [2.18, 2.24, 2.3, 2.35, 2.39, 2.43, 2.47, 2.51, 2.54, 2.57, 2.61, 2.64, 2.67, 2.71,
     2.74, 2.77, 2.81, 2.84, 2.87, 2.9, 2.93, 2.96, 3.0, 3.03, 3.06, 3.09, 3.12, 3.15,
     3.19, 3.22, 3.25, 3.28, 3.32, 3.35, 3.39, 3.42, 3.45, 3.48, 3.52, 3.55, 3.58, 3.61,
     3.65, 3.68, 3.71, 3.75, 3.78, 3.81, 3.84, 3.88, 3.91, 3.94, 3.97, 4.01, 4.04, 4.07,
     4.1, 4.13, 4.16, 4.19],
    [2.3, 2.37, 2.43, 2.48, 2.53, 2.57, 2.61, 2.65, 2.69, 2.72, 2.76, 2.8, 2.83, 2.86,
     2.89, 2.93, 2.96, 2.99, 3.02, 3.05, 3.08, 3.11, 3.14, 3.17, 3.2, 3.23, 3.26, 3.29,
     3.33, 3.36, 3.39, 3.42, 3.45, 3.48, 3.51, 3.55, 3.58, 3.61, 3.64, 3.67, 3.71, 3.74,
     3.77, 3.8, 3.83, 3.86, 3.89, 3.92, 3.95, 3.98, 4.01, 4.04, 4.07, 4.1, 4.13, 4.16,
     4.18],
    [2.4, 2.5, 2.56, 2.61, 2.66, 2.7, 2.74, 2.78, 2.82, 2.86, 2.89, 2.93, 2.96, 2.99,
     3.02, 3.05, 3.08, 3.11, 3.14, 3.17, 3.2, 3.23, 3.26, 3.29, 3.32, 3.35, 3.38, 3.41,
     3.44, 3.47, 3.5, 3.53, 3.56, 3.59, 3.62, 3.65, 3.68, 3.71, 3.74, 3.77, 3.8, 3.83,
     3.86, 3.89, 3.92, 3.95, 3.98, 4.01, 4.04, 4.07, 4.1, 4.13, 4.16],
    [2.55, 2.63, 2.69, 2.74, 2.78, 2.82, 2.86, 2.9, 2.93, 2.96, 3.0, 3.03, 3.06, 3.09,
     3.13, 3.16, 3.19, 3.22, 3.25, 3.28, 3.31, 3.34, 3.37, 3.4, 3.43, 3.46, 3.49, 3.52,
     3.55, 3.58, 3.61, 3.64, 3.67, 3.7, 3.73, 3.76, 3.79, 3.82, 3.85, 3.88, 3.91, 3.94,
     3.97, 4.0, 4.03, 4.06, 4.09, 4.12, 4.15],
    [2.64, 2.72, 2.8, 2.86, 2.91, 2.96, 3.0, 3.04, 3.07, 3.11, 3.14, 3.17, 3.21, 3.24,
     3.28, 3.31, 3.34, 3.38, 3.41, 3.44, 3.47, 3.51, 3.54, 3.57, 3.6, 3.64, 3.67, 3.7,
     3.73, 3.77, 3.8, 3.83, 3.86, 3.9, 3.93, 3.96, 3.99, 4.02, 4.06, 4.09, 4.12, 4.15],
    [2.74, 2.82, 2.88, 2.93, 2.97, 3.01, 3.05, 3.08, 3.12, 3.15, 3.19, 3.22, 3.26, 3.29,
     3.33, 3.36, 3.4, 3.43, 3.46, 3.5, 3.53, 3.57, 3.6, 3.64, 3.67, 3.71, 3.74, 3.77,
     3.81, 3.84, 3.88, 3.91, 3.94, 3.98, 4.01, 4.04, 4.08, 4.11, 4.14],
    [2.84, 2.92, 2.97, 3.02, 3.06, 3.1, 3.14, 3.18, 3.22, 3.26, 3.29, 3.33, 3.37, 3.4,
     3.44, 3.48, 3.51, 3.55, 3.58, 3.62, 3.65, 3.69, 3.72, 3.76, 3.79, 3.83, 3.86, 3.9,
     3.93, 3.97, 4.0, 4.04, 4.07, 4.1, 4.13],
    [2.93, 3.0, 3.05, 3.1, 3.14, 3.18, 3.22, 3.26, 3.3, 3.34, 3.38, 3.42, 3.46, 3.5,
     3.53, 3.57, 3.61, 3.65, 3.69, 3.72, 3.76, 3.8, 3.84, 3.87, 3.91, 3.95, 3.98, 4.02,
     4.06, 4.09, 4.12],
    [3.0, 3.07, 3.13, 3.18, 3.23, 3.28, 3.32, 3.36, 3.4, 3.44, 3.48, 3.52, 3.56, 3.6,
     3.64, 3.68, 3.72, 3.76, 3.8, 3.84, 3.88, 3.92, 3.96, 4.0, 4.04, 4.08, 4.11],
    [3.08, 3.15, 3.21, 3.26, 3.3, 3.34, 3.38, 3.42, 3.46, 3.5, 3.54, 3.58, 3.62, 3.66,
     3.7, 3.74, 3.78, 3.82, 3.86, 3.9, 3.94, 3.98, 4.02, 4.06, 4.09],
    [3.14, 3.22, 3.28, 3.33, 3.37, 3.42, 3.46, 3.5, 3.54, 3.58, 3.62, 3.66, 3.7, 3.74,
     3.78, 3.82, 3.86, 3.9, 3.94, 3.98, 4.02, 4.06],
    [3.24, 3.3, 3.36, 3.41, 3.45, 3.49, 3.54, 3.58, 3.62, 3.66, 3.7, 3.74, 3.78, 3.83,
     3.87, 3.91, 3.95, 3.99, 4.03],
    [3.28, 3.35, 3.42, 3.48, 3.53, 3.57, 3.62, 3.67, 3.71, 3.76, 3.8, 3.84, 3.89, 3.93,
     3.97, 4.01],
    [3.34, 3.41, 3.47, 3.53, 3.59, 3.64, 3.69, 3.74, 3.79, 3.84, 3.88, 3.93, 3.97],
    [3.44, 3.52, 3.6, 3.67, 3.73, 3.79, 3.86, 3.91, 3.96],
]

# movies with very few ratings at both ends
tail_x = [0.5, 0.5, 0.5, 0.5, 0.5, 0.5, 0.5, 0.5,
          0.8, 0.82, 0.86, 0.9,
          1.0, 1.0, 1.0, 1.0, 1.0, 1.0, 1.0, 1.0,
          1.03, 1.04, 1.09, 1.12, 1.18, 1.19, 1.2,
          1.25, 1.25, 1.25, 1.25, 1.25, 1.25,
          1.28, 1.3, 1.3, 1.3, 1.3, 1.3, 1.33, 1.35, 1.36, 1.39, 1.42, 1.44, 1.47, 1.49,
          1.5, 1.5, 1.5, 1.5, 1.5, 1.5,
          4.25, 4.25, 4.25, 4.25, 4.25, 4.25, 4.27, 4.33, 4.33, 4.4, 4.41,
          4.5, 4.5, 4.5, 4.5, 4.5, 4.5, 4.67, 4.71, 4.75, 4.75, 4.75, 4.75,
          5.0, 5.0, 5.0, 5.0, 5.0, 5.0]
tail_y = [1, 1, 1, 1, 1, 1, 1, 1,
          60, 30, 40, 240,
          1, 1, 1, 1, 1, 1, 1, 1,
          120, 20, 40, 10, 380, 250, 90,
          1, 1, 1, 1, 1, 1,
          80, 1, 1, 1, 1, 1, 150, 420, 330, 240, 180, 60, 330, 120,
          1, 1, 1, 1, 1, 1,
          1, 1, 1, 1, 1, 1, 60, 1, 1, 1, 1,
          1, 1, 1, 1, 1, 1, 1, 1, 1, 1, 1, 1,
          1, 1, 1, 1, 1, 1]

x_ticks = [1, 2, 3, 4, 5]
y_ticks = [0, 10000, 20000, 30000]
y_tick_labels = ["0", "10000", "20000", "30000"]

POINT = "rgba(95,158,160,0.3)"   # cadetblue, alpha .3
FONT = "Liberation Sans, Arial, Helvetica, sans-serif"

band_x, band_y = [], []
for levels, rows in ((band_levels, band_rows), (band2_levels, band2_rows)):
    for level, row in zip(levels, rows):
        band_x += row
        band_y += [level] * len(row)

all_x = (band_x + tail_x + low_x + cloud_x + cloud2_x + right_mid_x
         + left_mid_x + upper_x + top_x)
all_y = (band_y + tail_y + low_y + cloud_y + cloud2_y + right_mid_y
         + left_mid_y + upper_y + top_y)

fig = go.Figure()
fig.add_trace(go.Scatter(
    x=all_x,
    y=all_y,
    mode="markers",
    marker=dict(size=17, color=POINT, line=dict(color=POINT, width=2)),
    hoverinfo="skip",
))

fig.update_layout(
    width=2262,
    height=1562,
    margin=dict(l=200, r=23, t=98, b=132, autoexpand=False),
    paper_bgcolor="white",
    plot_bgcolor="#FFF8DC",
    showlegend=False,
    font=dict(family=FONT, color="black"),
    title=dict(
        text="Rating Sum vs Rating Mean by MovieID",
        x=203 / 2262, xanchor="left", xref="container",
        y=1 - 44 / 1562, yanchor="middle", yref="container",
        font=dict(size=54.6, color="black", family=FONT),
    ),
)
fig.update_xaxes(
    range=[0.275, 5.225],
    tickmode="array", tickvals=x_ticks,
    showgrid=True, gridcolor="white", gridwidth=4.4,
    zeroline=False, showline=False,
    ticks="outside", ticklen=11, tickwidth=4.4, tickcolor="#333333",
    tickfont=dict(size=36.4, color="#4D4D4D", family=FONT),
    title=dict(text="Average Rating", font=dict(size=45.5, color="black", family=FONT), standoff=0),
    minor=dict(tickmode="array", tickvals=[0.5, 1.5, 2.5, 3.5, 4.5], showgrid=True,
               gridcolor="white", gridwidth=2.2, ticks=""),
    automargin=False,
)
fig.update_yaxes(
    range=[-1570, 32970],
    tickmode="array", tickvals=y_ticks, ticktext=y_tick_labels,
    showgrid=True, gridcolor="white", gridwidth=4.4,
    zeroline=False, showline=False,
    ticks="outside", ticklen=11, tickwidth=4.4, tickcolor="#333333",
    tickfont=dict(size=36.4, color="#4D4D4D", family=FONT),
    ticklabelstandoff=5,
    title=dict(text="Times rated", font=dict(size=45.5, color="black", family=FONT), standoff=4),
    minor=dict(tickmode="array", tickvals=[5000, 15000, 25000], showgrid=True,
               gridcolor="white", gridwidth=2.2, ticks=""),
    automargin=False,
)

# the page has a default 8px body margin; drop it so the figure sits at the corner
fig.write_html("out.html", config={"displayModeBar": False},
               post_script="document.body.style.margin='0px';")
